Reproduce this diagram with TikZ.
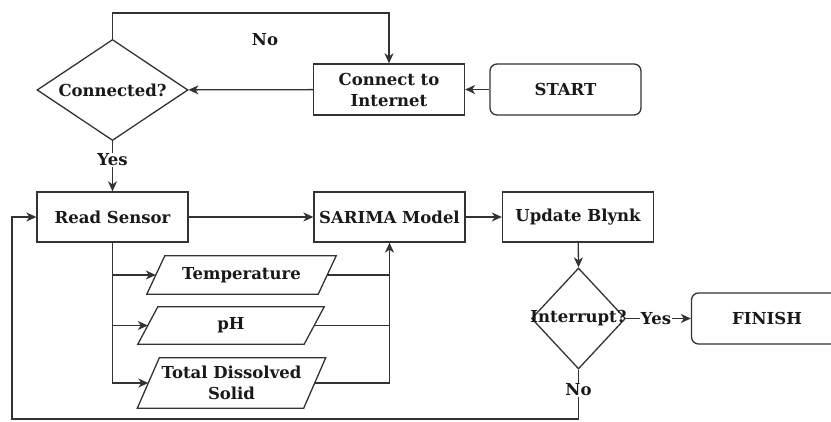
\documentclass[tikz,border=0pt]{standalone}
\usepackage{fontspec}
\setmainfont{DejaVu Serif}
\usetikzlibrary{shapes.geometric,arrows.meta,calc}
\newcommand\drawpara[2]{%
  \draw[ln] ($(#1.south west)+(-#2,0)$) -- ($(#1.north west)+(#2,0)$) --
    ($(#1.north east)+(#2,0)$) -- ($(#1.south east)+(-#2,0)$) -- cycle;}
\begin{document}
\begin{tikzpicture}[x=1pt,y=-1pt,
  every node/.style={font=\bfseries\fontsize{16.5}{21}\selectfont, text=black!90},
  ln/.style={line width=1.3pt, draw=black!80},
  box/.style={ln, draw, minimum width=151pt, minimum height=51pt, inner sep=0pt, align=center},
  term/.style={box, rounded corners=7pt},
  dec/.style={ln, draw, diamond, inner sep=0pt},
  io/.style={inner sep=0pt, align=center},
  lbl/.style={fill=white, inner sep=1pt},
  arr/.style={ln, -{Stealth[length=10pt,width=9pt,inset=3pt]}}]
\useasboundingbox (0,0) rectangle (831,421);
\clip (0,0) rectangle (831,421);
\fill[white] (0,0) rectangle (831,421);

% top row
\node[dec, minimum width=151pt, minimum height=101pt, label=center:{Connected?}] (conn) at (112.5,90) {};
\node[box] (cti) at (389,89.5) {Connect to\\Internet};
\node[term] (start) at (565.5,89.5) {START};
\node (nolab) at (265,40) {No};
\coordinate (t1) at (112.5,13);

% middle row
\node[box, minimum height=50pt] (read) at (112.5,217) {Read Sensor};
\node[box, minimum height=50pt] (sarima) at (389.5,217) {SARIMA Model};
\node[box, minimum height=50pt] (blynk) at (578,217) {Update Blynk};
\node[lbl] (yes1) at (112.5,160) {Yes};

% inputs
\node[io, minimum width=171pt, minimum height=38pt] (temp) at (241.5,275) {Temperature};
\node[io, minimum width=166pt, minimum height=37pt] (ph) at (231,325.5) {pH};
\node[io, minimum width=166pt, minimum height=50pt] (tds) at (231.5,383) {Total Dissolved\\Solid};
\drawpara{temp}{9}
\drawpara{ph}{10}
\drawpara{tds}{11}

% decision + finish
\node[dec, minimum width=94pt, minimum height=101pt, label=center:{Interrupt?}] (intr) at (578.5,318.5) {};
\node[term] (finish) at (767,318.5) {FINISH};
\node[lbl] (yes2) at (656,318.5) {Yes};
\node[lbl] (no2) at (578.5,390) {No};
\coordinate (b1) at (578.5,419);
\coordinate (b2) at (12,419);

% connectors
\draw[arr] (start) -- (cti);
\draw[arr] (cti) -- (conn);
\draw[arr] (conn.north) -- (t1) -| (cti.north);
\draw[ln] (conn.south) -- (yes1);
\draw[arr] (yes1) -- (read);
\draw[arr] (read) -- (sarima);
\draw[arr] (sarima) -- (blynk);
\draw[arr] (blynk) -- (intr.north);
\draw[arr] (read.south) |- (tds.west);
\draw[arr] (read.south |- temp.west) -- (temp.west);
\draw[arr] (read.south |- ph.west) -- (ph.west);
\draw[arr] (tds.east) -| (sarima.south);
\draw[ln] (temp.east) -- (temp.east -| sarima.south);
\draw[ln] (ph.east) -- (ph.east -| sarima.south);
\draw[ln] (intr.east) -- (yes2);
\draw[arr] (yes2) -- (finish);
\draw[ln] (intr.south) -- (no2);
\draw[arr] (no2) -- (b1) -- (b2) |- (read.west);
\end{tikzpicture}
\end{document}
